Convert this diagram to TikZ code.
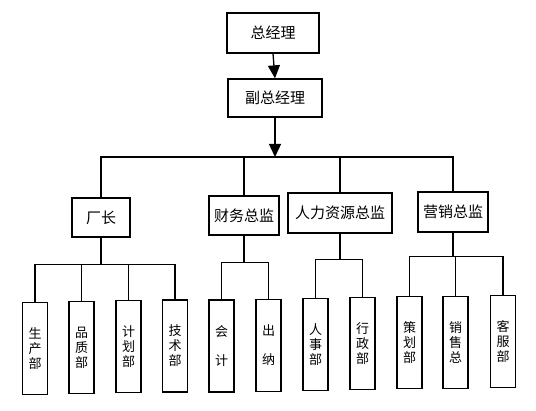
\documentclass[tikz,border=0pt]{standalone}
\usepackage{fontspec}
\setmainfont{Noto Sans CJK SC}
\usetikzlibrary{arrows.meta}
\begin{document}
\begin{tikzpicture}[x=1pt,y=-1pt,line width=1.3pt,
  box/.style={draw,rectangle,inner sep=0pt,font=\fontsize{15}{17}\selectfont},
  vbox/.style={draw,rectangle,inner sep=0pt,minimum width=25pt,minimum height=92pt,align=center,font=\fontsize{13}{15}\selectfont},
  arr/.style={-{Triangle[length=13pt,width=12pt]}}]
\useasboundingbox (0,0) rectangle (536,411);
% top levels
\node[box,minimum width=92pt,minimum height=40pt] (zjl) at (273,33) {总经理};
\node[box,minimum width=94pt,minimum height=38pt] (fzjl) at (275,98) {副总经理};
\draw[arr] (zjl.south) -- (fzjl.north);
\coordinate (bus) at (275,157);
\draw[arr] (fzjl.south) -- (bus);
% managers
\node[box,minimum width=58pt,minimum height=39pt] (cz) at (101,217.5) {厂长};
\node[box,minimum width=70pt,minimum height=39pt] (cw) at (244,215.5) {财务总监};
\node[box,minimum width=104pt,minimum height=40pt] (rl) at (340,213) {人力资源总监};
\node[box,minimum width=70pt,minimum height=40pt] (yx) at (453,212) {营销总监};
\draw (cz.north) -- (cz.north |- bus) -- (yx.north |- bus) -- (yx.north);
\draw (cw.north) -- (cw.north |- bus);
\draw (rl.north) -- (rl.north |- bus);
% departments
\node[vbox] (sc) at (35,348.5) {生\\产\\部};
\node[vbox] (pz) at (81.5,347.5) {品\\质\\部};
\node[vbox] (jh) at (128.5,346.5) {计\\划\\部};
\node[vbox] (js) at (175,346) {技\\术\\部};
\node[vbox] (kj) at (221.5,346) {会\\[14pt]计};
\node[vbox] (cn) at (268.5,345.5) {出\\[14pt]纳};
\node[vbox] (rs) at (315.5,344.5) {人\\事\\部};
\node[vbox] (xz) at (362.5,343.5) {行\\政\\部};
\node[vbox] (ch) at (409.5,342.5) {策\\划\\部};
\node[vbox] (xs) at (455.5,342.5) {销\\售\\总};
\node[vbox] (kf) at (503,341.5) {客\\服\\部};
% sub buses
\coordinate (b1) at ([yshift=-27pt]cz.south);
\coordinate (b2) at ([yshift=-27pt]cw.south);
\coordinate (b3) at ([yshift=-26pt]rl.south);
\coordinate (b4) at ([yshift=-24pt]yx.south);
\draw (cz.south) -- (b1);
\draw (cw.south) -- (b2);
\draw (rl.south) -- (b3);
\draw (yx.south) -- (b4);
\foreach \n in {sc,pz,jh,js} \draw (\n.north) |- (b1);
\foreach \n in {kj,cn} \draw (\n.north) |- (b2);
\foreach \n in {rs,xz} \draw (\n.north) |- (b3);
\foreach \n in {ch,xs,kf} \draw (\n.north) |- (b4);
\end{tikzpicture}
\end{document}
